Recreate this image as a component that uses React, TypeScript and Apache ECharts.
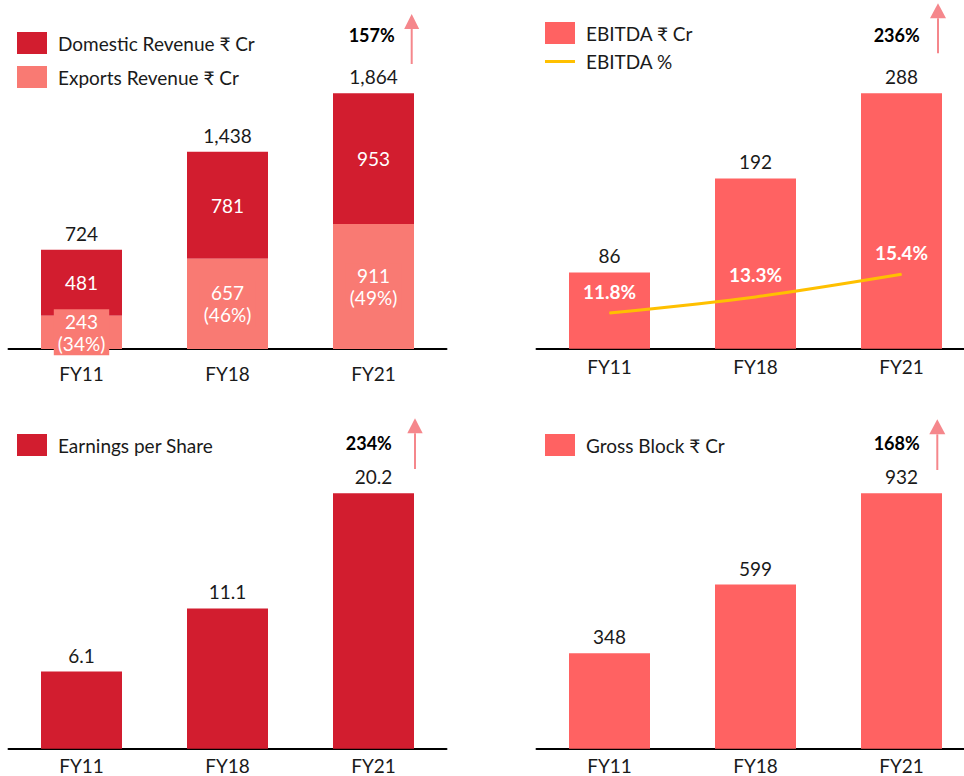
import { useEffect, useRef } from "react";
import * as echarts from "echarts";

const categories = ["FY11", "FY18", "FY21"];
const domesticRevenue = [481, 781, 953];
const exportsRevenue = [243, 657, 911];
const exportsShare = [34, 46, 49];
const revenueTotal = [724, 1438, 1864];
const ebitda = [86, 192, 288];
const ebitdaMargin = [11.8, 13.3, 15.4];
const eps = [6.1, 11.1, 20.2];
const grossBlock = [348, 599, 932];
const growthLabels = ["157%", "236%", "234%", "168%"];

const FONT = "Lato, 'Noto Sans', 'DejaVu Sans', sans-serif";
const FS = 19;
const TEXT = "#1a1a1a";
const DARK_RED = "#D21D2F";
const EXPORT_RED = "#F97A73";
const CORAL = "#FF6262";
const GOLD = "#FFC000";
const ARROW = "#F5878C";

function arrow(x: number, tail: number, base: number, tip: number, half: number) {
  return [
    { type: "line", shape: { x1: x, y1: tail, x2: x, y2: base }, style: { stroke: ARROW, lineWidth: 2 } },
    {
      type: "polygon",
      shape: { points: [[x - half, base], [x + half, base], [x, tip]] },
      style: { fill: ARROW },
    },
  ];
}

function growthText(text: string, x: number, y: number) {
  return {
    type: "text",
    x,
    y,
    style: {
      text,
      fill: "#000",
      fontSize: 18,
      fontWeight: "bold",
      fontFamily: FONT,
      align: "center",
      verticalAlign: "middle",
    },
  };
}

export default function App() {
  const ref = useRef<HTMLDivElement>(null);

  useEffect(() => {
    document.body.style.margin = "0";
    if (!ref.current) return;
    const chart = echarts.init(ref.current, undefined, { renderer: "svg" });

    const xAxisBase = (gridIndex: number, margin: number) => ({
      type: "category",
      gridIndex,
      data: categories,
      axisTick: { show: false },
      axisLine: { lineStyle: { color: "#000", width: 2 } },
      axisLabel: { fontSize: FS, lineHeight: 18, color: TEXT, fontFamily: FONT, margin },
    });

    const legendBase = {
      orient: "vertical",
      itemWidth: 30,
      itemHeight: 22,
      padding: 0,
      icon: "rect",
      selectedMode: false,
      textStyle: { fontSize: FS, color: TEXT, fontFamily: FONT, padding: [0, 0, 0, 6] },
    };

    const topLabel = {
      show: true,
      position: "top",
      distance: 7,
      fontSize: FS,
      color: TEXT,
      fontFamily: FONT,
    };

    const option = {
      animation: false,
      textStyle: { fontFamily: FONT },
      grid: [
        { left: 8.5, width: 438, top: 74.6, height: 274.4 },
        { left: 536.5, width: 438, top: 65, height: 283.7 },
        { left: 8.5, width: 438, top: 470.6, height: 278.1 },
        { left: 536.5, width: 438, top: 474.7, height: 274 },
      ],
      xAxis: [xAxisBase(0, 15), xAxisBase(1, 9), xAxisBase(2, 8), xAxisBase(3, 8)],
      yAxis: [
        { type: "value", gridIndex: 0, min: 0, max: 2000, show: false },
        { type: "value", gridIndex: 1, min: 0, max: 320, show: false },
        { type: "value", gridIndex: 2, min: 0, max: 22, show: false },
        { type: "value", gridIndex: 3, min: 0, max: 1000, show: false },
        { type: "value", gridIndex: 1, min: 8.5, max: 34.8, show: false },
      ],
      legend: [
        {
          ...legendBase,
          data: ["Domestic Revenue ₹ Cr", "Exports Revenue ₹ Cr"],
          left: 17,
          top: 32,
          itemGap: 12,
          textStyle: { ...legendBase.textStyle, padding: [0, 0, 0, 6] },
        },
        {
          ...legendBase,
          data: ["EBITDA ₹ Cr", { name: "EBITDA %", icon: "path://M0 0H30V3H0Z" }],
          left: 545,
          top: 22,
          itemGap: 8,
        },
        { ...legendBase, data: ["Earnings per Share"], left: 17, top: 434 },
        { ...legendBase, data: ["Gross Block ₹ Cr"], left: 545, top: 434 },
      ],
      series: [
        {
          name: "Exports Revenue ₹ Cr",
          type: "bar",
          stack: "revenue",
          xAxisIndex: 0,
          yAxisIndex: 0,
          z: 3,
          barWidth: 81,
          data: exportsRevenue,
          itemStyle: { color: EXPORT_RED },
          label: {
            show: true,
            position: "inside",
            color: "#fff",
            fontSize: FS,
            lineHeight: 22,
            fontFamily: FONT,
            backgroundColor: EXPORT_RED,
            padding: [1, 4],
            formatter: (p: any) => `${p.value}\n(${exportsShare[p.dataIndex]}%)`,
          },
        },
        {
          name: "Domestic Revenue ₹ Cr",
          type: "bar",
          stack: "revenue",
          xAxisIndex: 0,
          yAxisIndex: 0,
          z: 2,
          barWidth: 81,
          data: domesticRevenue,
          itemStyle: { color: DARK_RED },
          label: { show: true, position: "inside", color: "#fff", fontSize: FS, fontFamily: FONT },
        },
        {
          name: "Revenue Total",
          type: "bar",
          xAxisIndex: 0,
          yAxisIndex: 0,
          z: 1,
          barWidth: 81,
          barGap: "-100%",
          silent: true,
          data: revenueTotal,
          itemStyle: { color: "rgba(0,0,0,0)" },
          label: { ...topLabel, formatter: (p: any) => Number(p.value).toLocaleString("en-US") },
        },
        {
          name: "EBITDA ₹ Cr",
          type: "bar",
          xAxisIndex: 1,
          yAxisIndex: 1,
          barWidth: 81,
          data: ebitda,
          itemStyle: { color: CORAL },
          label: topLabel,
        },
        {
          name: "EBITDA %",
          type: "line",
          xAxisIndex: 1,
          yAxisIndex: 4,
          z: 4,
          smooth: 0.3,
          data: ebitdaMargin,
          symbol: "circle",
          symbolSize: 1,
          itemStyle: { color: GOLD },
          lineStyle: { color: GOLD, width: 3 },
          label: {
            show: true,
            position: "top",
            distance: 12,
            color: "#fff",
            fontWeight: "bold",
            fontSize: FS,
            fontFamily: FONT,
            formatter: (p: any) => `${p.value.toFixed(1)}%`,
          },
        },
        {
          name: "Earnings per Share",
          type: "bar",
          xAxisIndex: 2,
          yAxisIndex: 2,
          barWidth: 81,
          data: eps,
          itemStyle: { color: DARK_RED },
          label: { ...topLabel, formatter: (p: any) => Number(p.value).toFixed(1) },
        },
        {
          name: "Gross Block ₹ Cr",
          type: "bar",
          xAxisIndex: 3,
          yAxisIndex: 3,
          barWidth: 81,
          data: grossBlock,
          itemStyle: { color: CORAL },
          label: topLabel,
        },
      ],
      graphic: [
        growthText(growthLabels[0], 371.7, 35),
        growthText(growthLabels[1], 896.7, 35),
        growthText(growthLabels[2], 368.8, 442.7),
        growthText(growthLabels[3], 896.7, 442.7),
        ...arrow(411.7, 64, 29, 14, 7.5),
        ...arrow(938, 53.3, 18.3, 3.3, 8),
        ...arrow(415, 469, 433.3, 418.3, 7.7),
        ...arrow(937.3, 470, 434.3, 419.3, 8),
      ],
    };

    chart.setOption(option as any);
    return () => chart.dispose();
  }, []);

  return (
    <div style={{ width: 964, height: 776, overflow: "hidden", position: "relative" }}>
      <div ref={ref} style={{ width: 990, height: 776 }} />
    </div>
  );
}
